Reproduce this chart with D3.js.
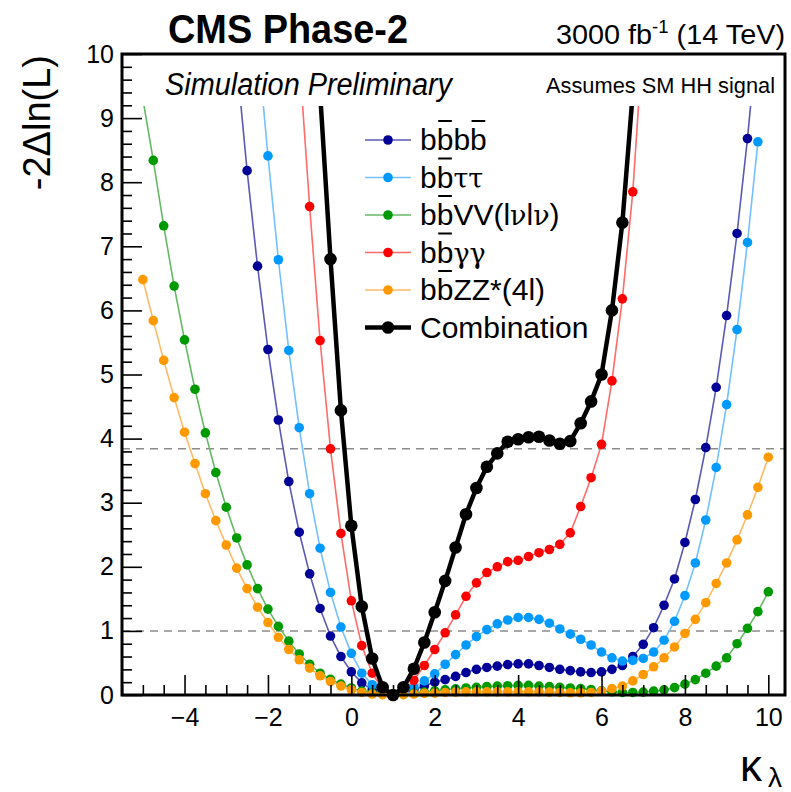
<!DOCTYPE html>
<html>
<head>
<meta charset="utf-8">
<script src="https://cdn.jsdelivr.net/npm/d3@7"></script>
<style>
  body { margin: 0; background: #fff; }
  svg { display: block; }
  text { font-family: "Liberation Sans", Arial, Helvetica, sans-serif; }
</style>
</head>
<body>
<svg id="chart" width="791" height="792"></svg>
<script>
// scan points in kappa_lambda
const kappa = [-5, -4.75, -4.5, -4.25, -4, -3.75, -3.5, -3.25, -3, -2.75, -2.5, -2.25, -2, -1.75, -1.5, -1.25,
  -1, -0.75, -0.5, -0.25, 0, 0.25, 0.5, 0.75, 1, 1.25, 1.5, 1.75, 2, 2.25, 2.5, 2.75, 3, 3.25, 3.5, 3.75,
  4, 4.25, 4.5, 4.75, 5, 5.25, 5.5, 5.75, 6, 6.25, 6.5, 6.75, 7, 7.25, 7.5, 7.75, 8, 8.25, 8.5, 8.75,
  9, 9.25, 9.5, 9.75, 10];

// -2 Delta ln(L) per channel (null = not scanned / off scale)
const bbbb = [null, null, null, null, null, null, null, null, null, 9.9, 8.18, 6.69, 5.39, 4.29, 3.33, 2.54,
  1.89, 1.35, 0.92, 0.60, 0.36, 0.19, 0.08, 0.02, 0, 0.03, 0.08, 0.14, 0.20, 0.24, 0.29, 0.35, 0.40, 0.43, 0.45, 0.475,
  0.485, 0.485, 0.46, 0.43, 0.40, 0.38, 0.36, 0.35, 0.36, 0.40, 0.46, 0.60, 0.79, 1.05, 1.40, 1.81, 2.38, 3.05, 3.86, 4.80,
  5.92, 7.20, 8.68, 10.4, null];
const bbtt = [null, null, null, null, null, null, null, null, null, null, null, 10.2, 8.41, 6.79, 5.375, 4.17,
  3.14, 2.29, 1.60, 1.06, 0.65, 0.34, 0.16, 0.05, 0, 0.04, 0.12, 0.22, 0.33, 0.48, 0.63, 0.78, 0.91, 1.02, 1.11, 1.17,
  1.21, 1.21, 1.18, 1.12, 1.03, 0.95, 0.87, 0.78, 0.67, 0.58, 0.53, 0.54, 0.57, 0.67, 0.855, 1.15, 1.55, 2.06, 2.73, 3.55,
  4.53, 5.70, 7.06, 8.63, null];
const bbVV = [9.3, 8.34, 7.32, 6.38, 5.54, 4.77, 4.09, 3.47, 2.93, 2.45, 2.03, 1.66, 1.34, 1.07, 0.84, 0.64,
  0.48, 0.34, 0.245, 0.17, 0.11, 0.06, 0.03, 0.01, 0, 0.01, 0.025, 0.045, 0.065, 0.08, 0.095, 0.11, 0.12, 0.13, 0.14, 0.145,
  0.15, 0.15, 0.14, 0.13, 0.12, 0.11, 0.10, 0.085, 0.065, 0.05, 0.04, 0.04, 0.045, 0.06, 0.08, 0.115, 0.17, 0.24, 0.34, 0.45,
  0.58, 0.80, 1.04, 1.30, 1.61];
const bbgg = [null, null, null, null, null, null, null, null, null, null, null, null, null, null, null, 9.95,
  7.62, 5.53, 3.84, 2.52, 1.47, 0.77, 0.34, 0.09, 0, 0.07, 0.23, 0.46, 0.71, 0.97, 1.25, 1.54, 1.75, 1.91, 2.0, 2.08,
  2.10, 2.16, 2.22, 2.27, 2.35, 2.53, 2.94, 3.39, 3.91, 4.90, 6.18, 7.85, 10.3, null, null, null, null, null, null, null,
  null, null, null, null, null];
const bbZZ = [6.48, 5.84, 5.22, 4.64, 4.10, 3.61, 3.14, 2.72, 2.34, 1.98, 1.66, 1.37, 1.13, 0.90, 0.71, 0.55,
  0.42, 0.30, 0.21, 0.14, 0.08, 0.04, 0.015, 0.005, 0, 0.005, 0.015, 0.025, 0.03, 0.04, 0.045, 0.05, 0.05, 0.05, 0.05, 0.05,
  0.05, 0.05, 0.05, 0.045, 0.04, 0.035, 0.035, 0.04, 0.06, 0.10, 0.14, 0.22, 0.32, 0.44, 0.58, 0.75, 0.96, 1.18, 1.44, 1.74,
  2.06, 2.42, 2.81, 3.24, 3.71];
const comb = [null, null, null, null, null, null, null, null, null, null, null, null, null, null, null, null,
  null, 9.4, 6.80, 4.44, 2.64, 1.38, 0.57, 0.12, 0, 0.12, 0.41, 0.82, 1.29, 1.78, 2.30, 2.82, 3.23, 3.56, 3.77, 3.95,
  3.99, 4.02, 4.03, 3.97, 3.92, 3.96, 4.24, 4.58, 5.0, 6.0, 7.37, 9.4, null, null, null, null, null, null, null, null,
  null, null, null, null, null];

const seriesValues = [bbbb, bbtt, bbVV, bbgg, bbZZ, comb];
const markerColors = ['#000099', '#0099ff', '#009900', '#ff0000', '#ff9900', '#000000'];
const lineColors = ['#5a5ab4', '#74c0ff', '#66b866', '#ff6a6a', '#ffba66', '#000000'];

// legend labels: [text, overline?, greek?]
const legendLabels = [
  [['b'], ['b', 1], ['b'], ['b', 1]],
  [['b'], ['b', 1], ['ττ', 0, 1]],
  [['b'], ['b', 1], ['VV(l'], ['ν', 0, 1], ['l'], ['ν', 0, 1], [')']],
  [['b'], ['b', 1], ['γγ', 0, 1]],
  [['b'], ['b', 1], ['ZZ*(4l)']],
  [['Combination']]
];

const xMajor = [-4, -2, 0, 2, 4, 6, 8, 10];
const yMajor = [0, 1, 2, 3, 4, 5, 6, 7, 8, 9, 10];
const refLines = [1, 3.84];
const yClip = 9.19;
const serif = '"DejaVu Serif", "Liberation Serif", serif';

const svg = d3.select('#chart');
const x = d3.scaleLinear().domain([-5.5, 10.4]).range([122, 785]);
const y = d3.scaleLinear().domain([0, 10]).range([695, 54]);

// dashed reference lines
svg.selectAll('.ref')
  .data(refLines)
  .enter()
  .append('line')
  .attr('x1', x.range()[0])
  .attr('x2', x.range()[1])
  .attr('y1', (d) => y(d))
  .attr('y2', (d) => y(d))
  .attr('stroke', '#8c8c8c')
  .attr('stroke-width', 1.5)
  .attr('stroke-dasharray', '8,6');

svg.append('clipPath')
  .attr('id', 'clip')
  .append('rect')
  .attr('x', x.range()[0])
  .attr('y', y(yClip))
  .attr('width', x.range()[1] - x.range()[0])
  .attr('height', y(0) - y(yClip) + 12);

const plot = svg.append('g').attr('clip-path', 'url(#clip)');

const line = d3.line()
  .defined((d) => d[1] != null)
  .x((d) => x(d[0]))
  .y((d) => y(d[1]));

function drawSeries(g, i) {
  const pts = kappa.map((k, j) => [k, seriesValues[i][j]]);
  const isComb = i === 5;
  g.append('path')
    .datum(pts)
    .attr('d', line)
    .attr('fill', 'none')
    .attr('stroke', lineColors[i])
    .attr('stroke-width', isComb ? 4.5 : 1.6)
    .attr('stroke-linejoin', 'round');
  g.selectAll('circle.s' + i)
    .data(pts.filter((d) => d[1] != null))
    .enter()
    .append('circle')
    .attr('class', 's' + i)
    .attr('cx', (d) => x(d[0]))
    .attr('cy', (d) => y(d[1]))
    .attr('r', isComb ? 6.3 : 4.8)
    .attr('fill', markerColors[i]);
}

for (let i = 0; i < 5; i++) drawSeries(plot, i);

// axes
const xMinor = d3.range(-5.5, 10.41, 0.5).filter((v) => xMajor.indexOf(v) < 0);
const yMinor = d3.range(0, 10.01, 0.2).map((v) => +v.toFixed(1)).filter((v) => yMajor.indexOf(v) < 0);
const fmt = (d) => (d < 0 ? '\u2212' + Math.abs(d) : String(d));

function styleAxis(g) {
  g.select('.domain').remove();
  g.selectAll('line').attr('stroke', '#000').attr('stroke-width', 1.6);
  g.selectAll('text').attr('font-size', 25).attr('fill', '#000')
    .attr('font-family', '"Liberation Sans", Arial, sans-serif');
  g.attr('font-family', null).attr('font-size', null);
}

svg.append('g')
  .attr('transform', `translate(0,${y(0)})`)
  .call(d3.axisBottom(x).tickValues(xMinor).tickSize(-10).tickFormat(''))
  .call(styleAxis);
svg.append('g')
  .attr('transform', `translate(0,${y(0)})`)
  .call(d3.axisBottom(x).tickValues(xMajor).tickSize(-20).tickPadding(13).tickFormat(fmt))
  .call(styleAxis);
svg.append('g')
  .attr('transform', `translate(${x.range()[0]},0)`)
  .call(d3.axisLeft(y).tickValues(yMinor).tickSize(-10).tickFormat(''))
  .call(styleAxis);
svg.append('g')
  .attr('transform', `translate(${x.range()[0]},0)`)
  .call(d3.axisLeft(y).tickValues(yMajor).tickSize(-20).tickPadding(8).tickFormat(fmt))
  .call(styleAxis);

// frame
svg.append('rect')
  .attr('x', x.range()[0])
  .attr('y', y.range()[1])
  .attr('width', x.range()[1] - x.range()[0])
  .attr('height', y.range()[0] - y.range()[1])
  .attr('fill', 'none')
  .attr('stroke', '#000')
  .attr('stroke-width', 3);

// combination on top
drawSeries(plot, 5);

// legend
const legend = svg.append('g');
legendLabels.forEach((lab, i) => {
  const ry = 140 + i * 37.5;
  const isComb = i === 5;
  legend.append('line')
    .attr('x1', 365).attr('x2', 411)
    .attr('y1', ry).attr('y2', ry)
    .attr('stroke', lineColors[i])
    .attr('stroke-width', isComb ? 4.5 : 1.6);
  legend.append('circle')
    .attr('cx', 388).attr('cy', ry)
    .attr('r', isComb ? 6.3 : 4.8)
    .attr('fill', markerColors[i]);
  const t = legend.append('text')
    .attr('x', 420).attr('y', ry + 10)
    .attr('font-size', 30)
    .attr('fill', '#000');
  const overIdx = [];
  let pos = 0;
  lab.forEach((seg) => {
    const ts = t.append('tspan').text(seg[0]);
    if (seg[2]) ts.attr('font-family', serif).attr('font-size', 27);
    if (seg[1]) overIdx.push(pos);
    pos += seg[0].length;
  });
  overIdx.forEach((ci) => {
    const r = t.node().getExtentOfChar(ci);
    legend.append('line')
      .attr('x1', r.x + 1.5).attr('x2', r.x + r.width - 1.5)
      .attr('y1', ry - 19).attr('y2', ry - 19)
      .attr('stroke', '#000').attr('stroke-width', 2);
  });
});

// header texts
svg.append('text')
  .attr('x', 168).attr('y', 43)
  .attr('font-size', 40).attr('font-weight', 'bold')
  .attr('textLength', 240).attr('lengthAdjust', 'spacingAndGlyphs')
  .text('CMS Phase-2');

const lumi = svg.append('text')
  .attr('x', 556).attr('y', 44)
  .attr('font-size', 28)
  .attr('textLength', 229).attr('lengthAdjust', 'spacingAndGlyphs');
lumi.append('tspan').text('3000 fb');
lumi.append('tspan').attr('font-size', 18).attr('dy', -11).text('-1');
lumi.append('tspan').attr('dy', 11).text(' (14 TeV)');

svg.append('text')
  .attr('x', 165).attr('y', 95)
  .attr('font-size', 31).attr('font-style', 'italic')
  .attr('textLength', 287).attr('lengthAdjust', 'spacingAndGlyphs')
  .text('Simulation Preliminary');

svg.append('text')
  .attr('x', 546).attr('y', 93)
  .attr('font-size', 21.5)
  .attr('textLength', 229).attr('lengthAdjust', 'spacingAndGlyphs')
  .text('Assumes SM HH signal');

// axis titles
svg.append('text')
  .attr('transform', 'translate(50,55) rotate(-90)')
  .attr('text-anchor', 'end')
  .attr('font-size', 38)
  .text('-2\u0394ln(L)');

const xt = svg.append('text')
  .attr('font-family', serif);
xt.append('tspan').attr('x', 740).attr('y', 781).attr('font-size', 44).text('κ');
xt.append('tspan').attr('x', 768).attr('y', 787).attr('font-size', 28).text('λ');
</script>
</body>
</html>
